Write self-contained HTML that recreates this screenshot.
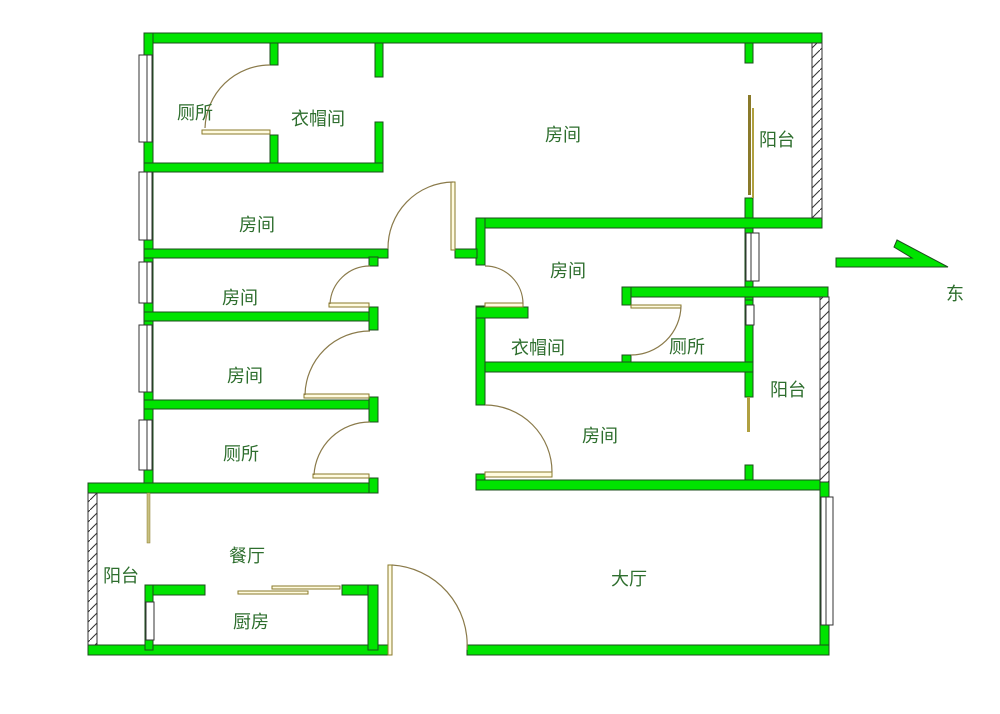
<!DOCTYPE html>
<html><head><meta charset="utf-8"><style>
html,body{margin:0;padding:0;background:#fff;}
svg{display:block}
.w{fill:#00e400;stroke:#1d4d1d;stroke-width:1}
.j{fill:#fffbe0;stroke:#8a7a2a;stroke-width:1}
.a{fill:none;stroke:#8a7a4a;stroke-width:1.2}
.win{fill:#fff;stroke:#333;stroke-width:1}
.t{font-family:"Liberation Sans","Noto Sans CJK SC",sans-serif;font-size:18px;fill:#2e6e2e}
</style></head><body>
<svg width="1000" height="714" viewBox="0 0 1000 714" xmlns="http://www.w3.org/2000/svg">
<defs>
<pattern id="h" width="10" height="10" patternUnits="userSpaceOnUse">
<rect width="10" height="10" fill="#fff"/>
<line x1="0" y1="10" x2="10" y2="0" stroke="#333" stroke-width="1"/>
</pattern>
</defs>

<!-- walls -->
<rect class="w" x="144" y="33" width="678" height="10"/>
<rect class="w" x="144" y="33" width="9" height="460"/>
<rect class="w" x="745" y="43" width="8" height="20"/>
<rect class="w" x="745" y="198" width="8" height="30"/>
<rect class="w" x="476" y="218" width="346" height="10"/>
<rect class="w" x="476" y="218" width="9" height="47"/>
<rect class="w" x="455" y="249" width="22" height="9"/>
<rect class="w" x="745" y="228" width="8" height="72"/>
<rect class="w" x="622" y="287" width="206" height="10"/>
<rect class="w" x="622" y="287" width="9" height="18"/>
<rect class="w" x="745" y="300" width="8" height="97"/>
<rect class="w" x="622" y="355" width="9" height="10"/>
<rect class="w" x="476" y="362" width="277" height="10"/>
<rect class="w" x="476" y="306" width="9" height="99"/>
<rect class="w" x="476" y="307" width="52" height="11"/>
<rect class="w" x="745" y="465" width="8" height="18"/>
<rect class="w" x="476" y="474" width="9" height="16"/>
<rect class="w" x="476" y="480" width="353" height="10"/>
<rect class="w" x="820" y="480" width="9" height="175"/>
<rect class="w" x="88" y="645" width="300" height="10"/>
<rect class="w" x="467" y="645" width="362" height="10"/>
<rect class="w" x="88" y="483" width="290" height="10"/>
<rect class="w" x="369" y="478" width="9" height="15"/>
<!-- left rooms -->
<rect class="w" x="270" y="43" width="8" height="22"/>
<rect class="w" x="270" y="135" width="8" height="30"/>
<rect class="w" x="375" y="43" width="8" height="34"/>
<rect class="w" x="375" y="122" width="8" height="50"/>
<rect class="w" x="144" y="163" width="239" height="9"/>
<rect class="w" x="144" y="249" width="244" height="9"/>
<rect class="w" x="369" y="257" width="9" height="9"/>
<rect class="w" x="144" y="312" width="234" height="9"/>
<rect class="w" x="369" y="307" width="9" height="23"/>
<rect class="w" x="144" y="400" width="234" height="9"/>
<rect class="w" x="369" y="397" width="9" height="25"/>
<!-- kitchen -->
<rect class="w" x="145" y="585" width="60" height="10"/>
<rect class="w" x="342" y="585" width="36" height="10"/>
<rect class="w" x="145" y="585" width="8" height="65"/>
<rect class="w" x="368" y="585" width="10" height="65"/>

<!-- hatched balcony walls -->
<rect x="812" y="43" width="10" height="175" fill="url(#h)" stroke="#333"/>
<rect x="820" y="297" width="9" height="185" fill="url(#h)" stroke="#333"/>
<rect x="88" y="493" width="9" height="152" fill="url(#h)" stroke="#333"/>

<!-- windows -->
<rect class="win" x="139" y="55" width="13" height="87"/><line x1="147" y1="55" x2="147" y2="142" stroke="#333"/>
<rect class="win" x="139" y="172" width="13" height="68"/><line x1="147" y1="172" x2="147" y2="240" stroke="#333"/>
<rect class="win" x="139" y="262" width="13" height="41"/><line x1="147" y1="262" x2="147" y2="303" stroke="#333"/>
<rect class="win" x="139" y="325" width="13" height="67"/><line x1="147" y1="325" x2="147" y2="392" stroke="#333"/>
<rect class="win" x="139" y="420" width="13" height="50"/><line x1="147" y1="420" x2="147" y2="470" stroke="#333"/>
<rect class="win" x="746" y="233" width="13" height="48"/><line x1="751" y1="233" x2="751" y2="281" stroke="#333"/>
<rect class="win" x="746" y="305" width="8" height="20"/>
<rect class="win" x="821" y="497" width="12" height="128"/><line x1="826" y1="497" x2="826" y2="625" stroke="#333"/>
<rect class="win" x="146" y="602" width="8" height="38"/>

<!-- sliding doors -->
<rect x="748" y="95" width="3" height="100" fill="#8a7a2a"/>
<rect x="752" y="108" width="2" height="90" fill="#b0a040"/>
<rect x="747" y="397" width="3" height="35" fill="#b0a040"/>
<rect x="147" y="493" width="3" height="50" fill="#c8c080" stroke="#8a7a2a" stroke-width="0.5"/>
<rect x="238" y="591" width="70" height="3" class="j"/>
<rect x="272" y="586" width="68" height="3" class="j"/>

<!-- doors -->
<rect class="j" x="202" y="130" width="68" height="4"/>
<path class="a" d="M270 65 A65 65 0 0 0 205 128"/>
<rect class="j" x="451" y="182" width="4" height="68"/>
<path class="a" d="M453 182 A66 66 0 0 0 388 249"/>
<rect class="j" x="329" y="303" width="40" height="4"/>
<path class="a" d="M370 266 A40 40 0 0 0 330 304"/>
<rect class="j" x="304" y="394" width="65" height="4"/>
<path class="a" d="M370 331 A65 65 0 0 0 305 395"/>
<rect class="j" x="313" y="474" width="56" height="4"/>
<path class="a" d="M370 422 A56 56 0 0 0 314 475"/>
<rect class="j" x="485" y="303" width="38" height="4"/>
<path class="a" d="M485 266 A38 38 0 0 1 523 304"/>
<rect class="j" x="631" y="305" width="50" height="3"/>
<path class="a" d="M681 306 A50 50 0 0 1 631 355"/>
<rect class="j" x="485" y="472" width="67" height="5"/>
<path class="a" d="M485 405 A67 67 0 0 1 552 472"/>
<rect class="j" x="388" y="565" width="4" height="90"/>
<path class="a" d="M392 565 A80 80 0 0 1 467 650"/>

<!-- compass -->
<polygon points="836,258 912,258 894,247 897,240 948,267 836,267" fill="#00e400" stroke="#1d4d1d"/>
<text class="t" x="946" y="300">东</text>

<!-- labels -->
<text class="t" x="177" y="119">厕所</text>
<text class="t" x="291" y="125">衣帽间</text>
<text class="t" x="545" y="141">房间</text>
<text class="t" x="759" y="146">阳台</text>
<text class="t" x="239" y="231">房间</text>
<text class="t" x="550" y="277">房间</text>
<text class="t" x="222" y="304">房间</text>
<text class="t" x="511" y="354">衣帽间</text>
<text class="t" x="669" y="353">厕所</text>
<text class="t" x="227" y="382">房间</text>
<text class="t" x="770" y="396">阳台</text>
<text class="t" x="582" y="442">房间</text>
<text class="t" x="223" y="460">厕所</text>
<text class="t" x="229" y="562">餐厅</text>
<text class="t" x="103" y="582">阳台</text>
<text class="t" x="611" y="585">大厅</text>
<text class="t" x="233" y="628">厨房</text>
</svg>
</body></html>
